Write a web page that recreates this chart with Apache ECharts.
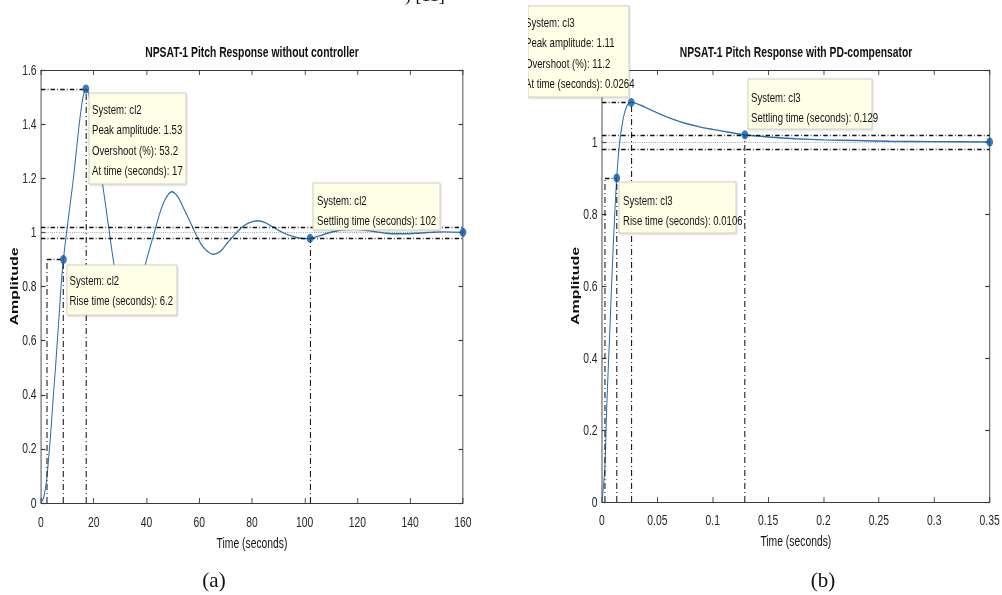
<!DOCTYPE html>
<html>
<head>
<meta charset="utf-8">
<script src="https://cdn.jsdelivr.net/npm/echarts@6/dist/echarts.min.js"></script>
<style>
  html, body { margin: 0; padding: 0; background: #fff; overflow: hidden; width: 1002px; height: 595px; }
  /* the source figure is squeezed sideways, so the chart is drawn wider and squeezed the same way */
  #chart { width: 1354px; height: 595px; transform: scaleX(0.74); transform-origin: 0 0; }
</style>
</head>
<body>
<div id="chart"></div>
<script>
// (a) step response without controller
const leftTime = [0, 1, 2, 2.3, 3.2, 4, 4.7, 5.5, 6.2, 7, 7.6, 8.5, 9.7, 11, 12.3, 13.4, 14.5, 15.5, 16.3, 17,
  17.8, 18.7, 19.7, 21, 22.2, 23.4, 25.5, 27.7, 29.5, 31, 32.3, 33.5, 34.8, 36.2, 38, 39.7, 41.5, 43, 45, 47,
  49.5, 52, 54.5, 56.5, 58.4, 60.5, 62.5, 65.3, 68, 71, 74.2, 77, 79.5, 82.4, 85, 88, 91, 94, 97, 99.5,
  102, 105, 108, 112, 116, 119, 123, 127, 131, 134, 138, 143, 148, 153, 160];
const leftAmp = [0, 0.02, 0.075, 0.1, 0.2, 0.3, 0.4, 0.5, 0.6, 0.71, 0.8, 0.9, 1.0, 1.1, 1.2, 1.3, 1.4, 1.475, 1.515, 1.53,
  1.52, 1.48, 1.41, 1.32, 1.25, 1.175, 1.03, 0.88, 0.79, 0.74, 0.71, 0.70, 0.705, 0.73, 0.8, 0.886, 0.95, 1.0, 1.07, 1.12,
  1.15, 1.13, 1.08, 1.04, 1.0, 0.96, 0.935, 0.919, 0.93, 0.965, 1.0, 1.025, 1.038, 1.043, 1.036, 1.02, 1.003, 0.99, 0.981, 0.977,
  0.978, 0.985, 0.995, 1.005, 1.01, 1.011, 1.008, 1.002, 0.997, 0.995, 0.995, 0.997, 1.0, 1.002, 1.0];

// (b) step response with PD-compensator
const rightTime = [0, 0.0015, 0.0027, 0.004, 0.0055, 0.007, 0.0085, 0.01, 0.0115, 0.0133, 0.0156, 0.0183, 0.0205,
  0.0225, 0.0245, 0.0264, 0.03, 0.035, 0.04, 0.047, 0.055, 0.065, 0.075, 0.088, 0.1, 0.115, 0.129, 0.15, 0.175,
  0.2, 0.23, 0.26, 0.3, 0.35];
const rightAmp = [0, 0.05, 0.1, 0.24, 0.36, 0.47, 0.59, 0.7, 0.8, 0.9, 0.99, 1.05, 1.083,
  1.1, 1.108, 1.11, 1.108, 1.102, 1.095, 1.085, 1.074, 1.062, 1.052, 1.042, 1.035, 1.027, 1.02, 1.014, 1.009,
  1.006, 1.004, 1.002, 1.001, 1.0];

// step info (times in s)
const leftRise = [2.3, 8.5];        // 10% / 90% times
const leftPeak = [17, 1.53];
const leftSettle = [102, 0.978];
const leftFinal = [160, 1.0];
const rightRise = [0.0027, 0.0133];
const rightPeak = [0.0264, 1.11];
const rightSettle = [0.129, 1.02];
const rightFinal = [0.35, 1.0];
const band = [0.98, 1.0, 1.02];

// axis ranges [min, max, interval]
const leftX = [0, 160, 20];
const leftY = [0, 1.6, 0.2];
const rightX = [0, 0.35, 0.05];
const rightY = [0, 1.2, 0.2];

const leftTitle = 'NPSAT-1 Pitch Response without controller';
const rightTitle = 'NPSAT-1 Pitch Response with PD-compensator';
const leftPeakTip = ['System: cl2', 'Peak amplitude: 1.53', 'Overshoot (%): 53.2', 'At time (seconds): 17'];
const leftSettleTip = ['System: cl2', 'Settling time (seconds): 102'];
const leftRiseTip = ['System: cl2', 'Rise time (seconds): 6.2'];
const rightPeakTip = ['System: cl3', 'Peak amplitude: 1.11', 'Overshoot (%): 11.2', 'At time (seconds): 0.0264'];
const rightSettleTip = ['System: cl3', 'Settling time (seconds): 0.129'];
const rightRiseTip = ['System: cl3', 'Rise time (seconds): 0.0106'];

const K = 0.74;                 // horizontal squeeze, same as the css
const X = px => px / K;         // screen x -> chart x
const FONT = '"Liberation Sans", Arial, Helvetica, sans-serif';
const SERIF = '"Liberation Serif", "Times New Roman", serif';
const AXIS_COLOR = '#3a3a3a';
const LINE_BLUE = '#2a6fb3';
const DOT_BLUE = '#0d57a4';
const DASHDOT = [6, 3, 1, 3];

const pairs = (xs, ys) => xs.map((x, i) => [x, ys[i]]);

function axis(grid, range, position, extra) {
  const vertical = position === 'left' || position === 'right';
  return Object.assign({
    type: 'value',
    gridIndex: grid,
    min: range[0], max: range[1], interval: range[2],
    position: position,
    axisLine: { show: true, onZero: false, lineStyle: { color: AXIS_COLOR, width: 1.2 } },
    axisTick: { show: true, inside: true, length: vertical ? 6 : 5, lineStyle: { color: AXIS_COLOR, width: 1.2 } },
    splitLine: { show: false },
    axisLabel: { show: false }
  }, extra || {});
}

function tickLabels(margin) {
  return { show: true, margin: margin, fontSize: 14, color: '#262626', fontFamily: FONT };
}

function guideLines(rise, peak, settle, xmax, ymin) {
  const dd = { type: DASHDOT, color: '#111', width: 1.4 };
  const seg = (a, b, style) => [{ coord: a, lineStyle: style }, { coord: b }];
  return [
    seg([0, band[0]], [xmax, band[0]], dd),
    seg([0, band[2]], [xmax, band[2]], dd),
    seg([0, band[1]], [xmax, band[1]], { type: [1, 2], color: '#777', width: 1 }),
    seg([0, peak[1]], [peak[0], peak[1]], dd),
    seg([peak[0], ymin], [peak[0], peak[1]], dd),
    seg([rise[0], 0.9], [rise[1], 0.9], dd),
    seg([rise[0], ymin], [rise[0], 0.9], dd),
    seg([rise[1], ymin], [rise[1], 0.9], dd),
    seg([settle[0], ymin], [settle[0], settle[1]], dd)
  ];
}

// data tip box; positions given in screen pixels
function tip(x, y, w, h, lines, tx, firstLine) {
  const lh = 20.3;
  return [
    { type: 'rect', z: 100, shape: { x: X(x), y: y, width: X(w), height: h },
      style: { fill: '#ffffe8', stroke: '#c9c9bd', lineWidth: 1,
               shadowColor: 'rgba(0,0,0,0.18)', shadowOffsetX: 1, shadowOffsetY: 1, shadowBlur: 2 } },
    { type: 'text', z: 101, x: X(tx), y: firstLine - lh / 2,
      style: { text: lines.join('\n'), fontSize: 13, lineHeight: lh, fill: '#111', fontFamily: FONT,
               textVerticalAlign: 'top' } }
  ];
}

function caption(text, x, y, size) {
  return { type: 'text', x: X(x), y: y, z: 100, scaleX: 1 / K,
    style: { text: text, fontSize: size, fill: '#111', fontFamily: SERIF, textAlign: 'center', textVerticalAlign: 'middle' } };
}

const chart = echarts.init(document.getElementById('chart'), null, { renderer: 'svg' });

const nameStyle = { fontSize: 14, color: '#111', fontFamily: FONT };
const ampStyle = { fontSize: 16, fontWeight: 'bold', color: '#111', fontFamily: FONT };

chart.setOption({
  animation: false,
  backgroundColor: '#fff',
  grid: [
    { left: X(41), top: 70, width: X(422), height: 433 },
    { left: X(602), top: 70, width: X(388), height: 432 }
  ],
  xAxis: [
    axis(0, leftX, 'bottom', { axisLabel: tickLabels(12), name: 'Time (seconds)', nameLocation: 'middle', nameGap: 33, nameTextStyle: nameStyle }),
    axis(0, leftX, 'top'),
    axis(1, rightX, 'bottom', { axisLabel: tickLabels(11), name: 'Time (seconds)', nameLocation: 'middle', nameGap: 32, nameTextStyle: nameStyle }),
    axis(1, rightX, 'top')
  ],
  yAxis: [
    axis(0, leftY, 'left', { axisLabel: tickLabels(6), name: 'Amplitude', nameLocation: 'middle', nameGap: 20, nameTextStyle: ampStyle }),
    axis(0, leftY, 'right'),
    axis(1, rightY, 'left', { axisLabel: Object.assign(tickLabels(6), { formatter: v => (v > 1.1 ? '' : String(+v.toFixed(2))) }),
      name: 'Amplitude', nameLocation: 'middle', nameGap: 18, nameTextStyle: ampStyle }),
    axis(1, rightY, 'right')
  ],
  series: [
    {
      name: 'cl2', type: 'line', xAxisIndex: 0, yAxisIndex: 0,
      data: pairs(leftTime, leftAmp), smooth: 0.3, showSymbol: false,
      lineStyle: { color: LINE_BLUE, width: 1.4 },
      markLine: { silent: true, symbol: ['none', 'none'], label: { show: false },
        data: guideLines(leftRise, leftPeak, leftSettle, leftX[1], leftY[0]) },
      z: 3
    },
    {
      name: 'cl2 points', type: 'scatter', xAxisIndex: 0, yAxisIndex: 0,
      data: [[leftRise[1], 0.9], leftPeak, leftSettle, leftFinal],
      symbolSize: 9, itemStyle: { color: DOT_BLUE }, z: 5
    },
    {
      name: 'cl3', type: 'line', xAxisIndex: 2, yAxisIndex: 2,
      data: pairs(rightTime, rightAmp), smooth: 0.3, showSymbol: false,
      lineStyle: { color: LINE_BLUE, width: 1.4 },
      markLine: { silent: true, symbol: ['none', 'none'], label: { show: false },
        data: guideLines(rightRise, rightPeak, rightSettle, rightX[1], rightY[0]) },
      z: 3
    },
    {
      name: 'cl3 points', type: 'scatter', xAxisIndex: 2, yAxisIndex: 2,
      data: [[rightRise[1], 0.9], rightPeak, rightSettle, rightFinal],
      symbolSize: 9, itemStyle: { color: DOT_BLUE }, z: 5
    }
  ],
  graphic: [
    { type: 'text', x: X(252), y: 52, z: 100,
      style: { text: leftTitle, fontSize: 14, fontWeight: 'bold', fill: '#111', fontFamily: FONT,
               textAlign: 'center', textVerticalAlign: 'middle' } },
    { type: 'text', x: X(796), y: 52, z: 100,
      style: { text: rightTitle, fontSize: 14, fontWeight: 'bold', fill: '#111', fontFamily: FONT,
               textAlign: 'center', textVerticalAlign: 'middle' } },
    caption('(a)', 214, 580, 21),
    caption('(b)', 823, 580, 21),
    { type: 'text', x: X(405), y: 4, z: 100, scaleX: 1 / K,
      style: { text: ') [11]', fontSize: 18, fill: '#111', fontFamily: SERIF, textVerticalAlign: 'bottom' } },
    ...tip(89, 93, 97, 91, leftPeakTip, 92, 109.5),
    ...tip(313, 183, 127, 47, leftSettleTip, 317, 200),
    ...tip(67, 265, 110, 50, leftRiseTip, 69.5, 280.5),
    ...tip(528, 6, 101, 91, rightPeakTip, 525, 22.5),
    { type: 'rect', z: 102, shape: { x: X(500), y: 0, width: X(28), height: 100 }, style: { fill: '#fff' } },
    ...tip(748, 79, 124, 50, rightSettleTip, 751, 97),
    ...tip(619, 182, 117, 51, rightRiseTip, 623, 200)
  ]
});
</script>
</body>
</html>
